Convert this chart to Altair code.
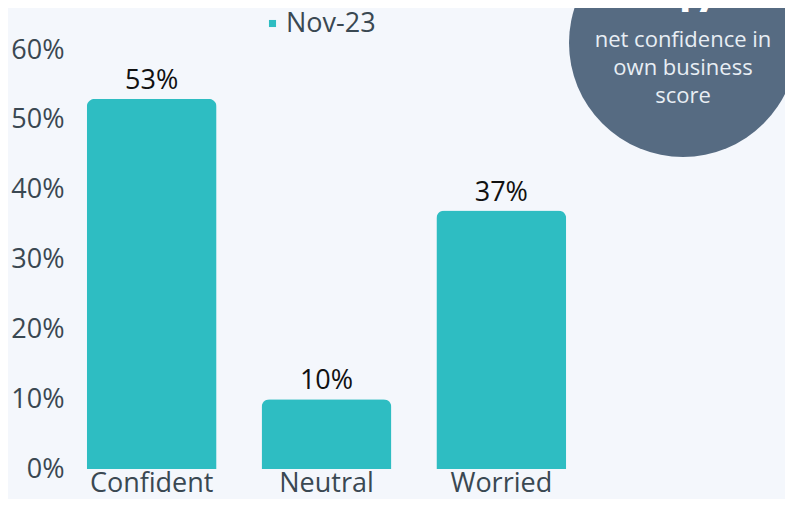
import altair as alt
import pandas as pd

categories = ["Confident", "Neutral", "Worried"]
values = [53, 10, 37]
series = ["Nov-23", "Nov-23", "Nov-23"]
value_labels = ["53%", "10%", "37%"]

badge_value = ["+17"]
badge_lines = ["net confidence in", "own business", "score"]

FONT = "Open Sans"
BAR = "#2ebdc2"
AXIS_TXT = "#3a4852"

df = pd.DataFrame({"cat": categories, "val": values, "series": series, "lab": value_labels})

base = alt.Chart(df)

bars = base.mark_bar(cornerRadiusTopLeft=8, cornerRadiusTopRight=8).encode(
    x=alt.X("cat:N", sort=categories, title=None,
            scale=alt.Scale(paddingInner=0.257, paddingOuter=0.13),
            axis=alt.Axis(labelAngle=0, labelFontSize=27, labelColor=AXIS_TXT, labelFont=FONT,
                          domain=False, ticks=False, labelPadding=1)),
    y=alt.Y("val:Q", title=None, scale=alt.Scale(domain=[0, 60], nice=False),
            axis=alt.Axis(values=[0, 10, 20, 30, 40, 50, 60], labelExpr="datum.value + '%'",
                          grid=False, domain=False, ticks=False, labelFontSize=27,
                          labelColor=AXIS_TXT, labelFont=FONT, labelPadding=0)),
    color=alt.Color("series:N", scale=alt.Scale(range=[BAR]),
                    legend=alt.Legend(title=None, orient="none", legendX=195, legendY=-40,
                                      symbolType="square", symbolSize=50, labelFontSize=27,
                                      labelFont=FONT, labelColor=AXIS_TXT, labelOffset=0)),
)

texts = base.mark_text(baseline="bottom", dy=-4, fontSize=27, font=FONT, color="#111111").encode(
    x=alt.X("cat:N", sort=categories),
    y="val:Q",
    text="lab:N",
)

badge_df = pd.DataFrame({"v": badge_value})
circle = alt.Chart(badge_df).mark_circle(color="#566b82", opacity=1, size=51984).encode(
    x=alt.value(619), y=alt.value(-7)
)
big = alt.Chart(badge_df).mark_text(fontSize=42, fontWeight="bold", font=FONT, color="white",
                                    baseline="alphabetic").encode(
    x=alt.value(619), y=alt.value(-38), text="v:N"
)
small = alt.Chart(badge_df).mark_text(fontSize=22, font=FONT, color="#e8eef4", baseline="top",
                                      lineHeight=28).encode(
    x=alt.value(619),
    y=alt.value(-20),
    text=alt.value(badge_lines),
)

chart = alt.layer(bars, texts, circle, big, small).properties(
    width=525, height=419,
    autosize=alt.AutoSizeParams(type="none"),
    padding={"left": 56, "top": 42, "right": 196, "bottom": 30},
    background="#f4f7fc",
).configure_view(stroke=None)

chart.save("out.html", embed_options={"renderer": "svg", "actions": False})
